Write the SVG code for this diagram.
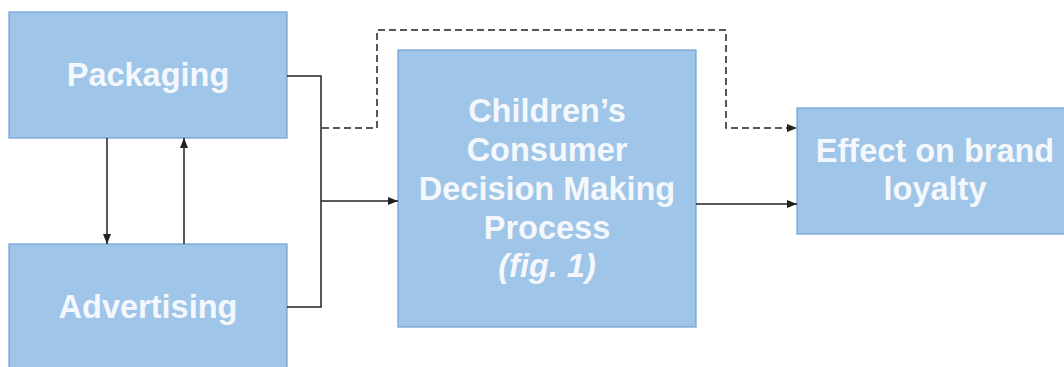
<svg xmlns="http://www.w3.org/2000/svg" width="1064" height="367" viewBox="0 0 1064 367">
<style>
.box{fill:#9fc5e8;stroke:#6f9fd6;stroke-width:1.2}
.t{font-family:"Liberation Sans",Arial,sans-serif;font-weight:bold;font-size:32.5px;fill:#f4f8fd;text-anchor:middle}
.c{fill:none;stroke:#222;stroke-width:1.5}
.d{stroke-dasharray:7 4}
</style>
<defs>
<marker id="ah" viewBox="0 0 10 10" refX="10" refY="5" markerWidth="10" markerHeight="10" markerUnits="userSpaceOnUse" orient="auto">
<path d="M0,1 L10,5 L0,9 Z" fill="#222"/>
</marker>
</defs>
<rect width="1064" height="367" fill="#fff"/>
<g id="packaging"><rect class="box" x="9" y="12" width="278" height="126"/><text class="t" x="148" y="86">Packaging</text></g>
<g id="advertising"><rect class="box" x="9" y="244" width="278" height="128"/><text class="t" x="148" y="318">Advertising</text></g>
<g id="process"><rect class="box" x="398" y="50" width="298" height="277"/>
<text class="t" x="547" y="122">Children’s</text>
<text class="t" x="547" y="161">Consumer</text>
<text class="t" x="547" y="200">Decision Making</text>
<text class="t" x="547" y="239">Process</text>
<text class="t" x="547" y="277" font-style="italic">(fig. 1)</text>
</g>
<g id="effect"><rect class="box" x="797" y="108" width="278" height="126"/>
<text class="t" x="935" y="162">Effect on brand</text>
<text class="t" x="935" y="200">loyalty</text>
</g>
<g id="connectors">
<path class="c" d="M107,138 V244" marker-end="url(#ah)"/>
<path class="c" d="M184,244 V138" marker-end="url(#ah)"/>
<path class="c" d="M287,76 H321 V307 H287"/>
<path class="c" d="M321,201 H398" marker-end="url(#ah)"/>
<path class="c d" d="M322,128 H377 V30 H726 V128 H797" marker-end="url(#ah)"/>
<path class="c" d="M696,204 H797" marker-end="url(#ah)"/>
</g>
</svg>
